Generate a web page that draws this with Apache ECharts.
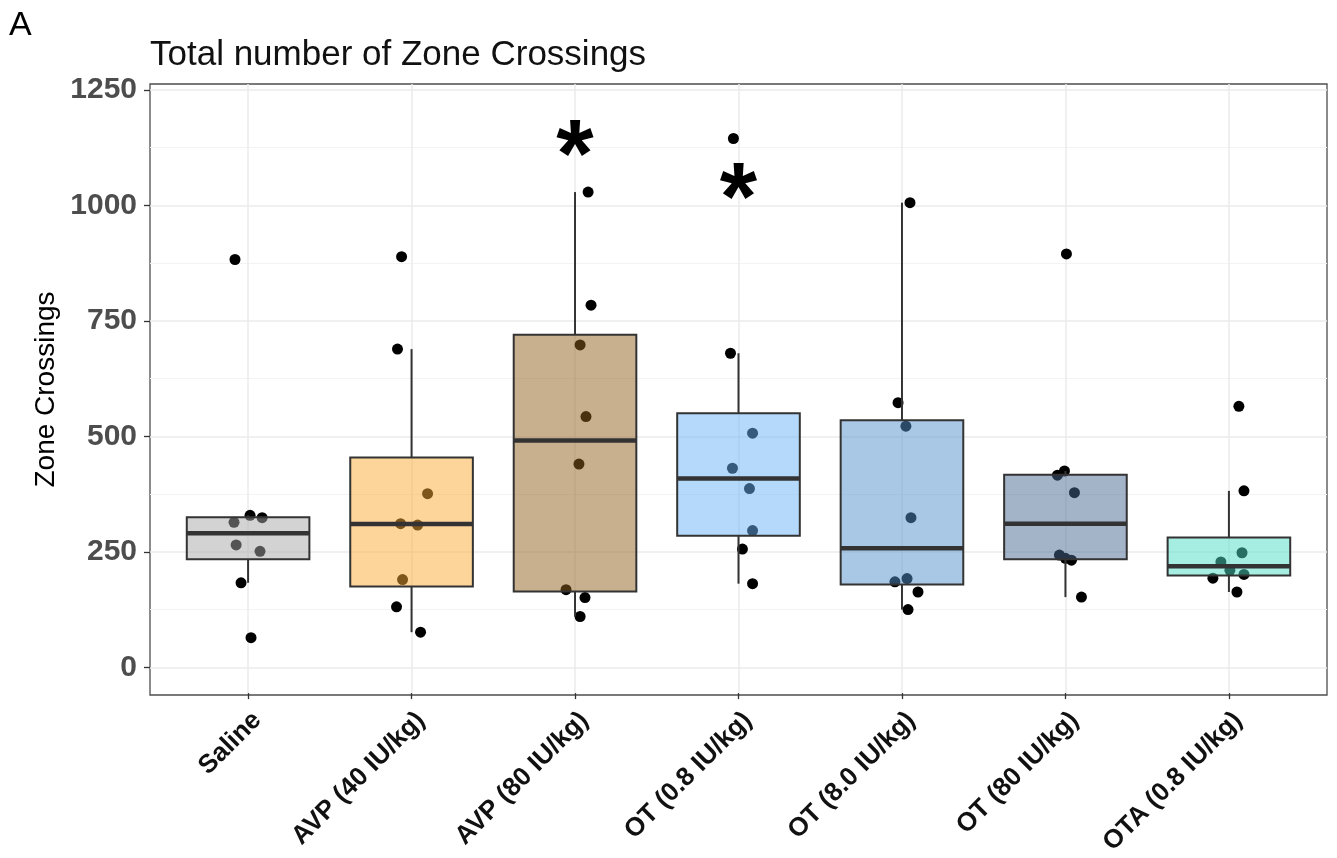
<!DOCTYPE html>
<html><head><meta charset="utf-8">
<script src="https://cdn.jsdelivr.net/npm/echarts@6/dist/echarts.min.js"></script>
<style>html,body{margin:0;padding:0;background:#fff}#c{width:1337px;height:858px}</style>
</head><body><div id="c"></div>
<script>
// ---------- data ----------
const categories = ['Saline','AVP (40 IU/kg)','AVP (80 IU/kg)','OT (0.8 IU/kg)','OT (8.0 IU/kg)','OT (80 IU/kg)','OTA (0.8 IU/kg)'];
const yTicks = [0, 250, 500, 750, 1000, 1250];

// individual animals (zone crossings)
const salinePts = [883, 314, 329, 324, 265, 251, 183, 64];
const avp40Pts  = [889, 689, 376, 311, 308, 190, 131, 76];
const avp80Pts  = [1029, 784, 698, 543, 440, 168, 151, 110];
const ot08Pts   = [1145, 680, 507, 431, 387, 296, 256, 181];
const ot8Pts    = [1006, 573, 522, 324, 185, 192, 163, 125];
const ot80Pts   = [895, 425, 416, 378, 243, 232, 236, 152];
const otaPts    = [565, 382, 248, 228, 201, 193, 163, 210];

// horizontal jitter of each point (category units)
const salineJit = [-0.08, -0.086, 0.012, 0.086, -0.073, 0.073, -0.043, 0.018];
const avp40Jit  = [-0.061, -0.086, 0.098, -0.067, 0.037, -0.055, -0.092, 0.055];
const avp80Jit  = [0.08, 0.098, 0.031, 0.067, 0.024, -0.055, 0.061, 0.031];
const ot08Jit   = [-0.031, -0.049, 0.086, -0.037, 0.067, 0.086, 0.024, 0.086];
const ot8Jit    = [0.049, -0.024, 0.024, 0.055, -0.043, 0.031, 0.098, 0.037];
const ot80Jit   = [0.006, -0.006, -0.049, 0.055, -0.037, 0.037, 0.0, 0.098];
const otaJit    = [0.061, 0.092, 0.08, -0.049, 0.092, -0.098, 0.049, 0.006];

// box statistics: [lower whisker, Q1, median, Q3, upper whisker]
const salineBox = [183, 234, 290, 325, 329];
const avp40Box  = [76, 175, 310, 454, 689];
const avp80Box  = [110, 164, 491, 720, 1029];
const ot08Box   = [181, 285, 409, 550, 680];
const ot8Box    = [125, 179, 258, 535, 1006];
const ot80Box   = [152, 234, 311, 417, 425];
const otaBox    = [163, 199, 219, 281, 382];

// significance marks
const sigCategories = ['AVP (80 IU/kg)', 'OT (0.8 IU/kg)'];
const sigY = [1147, 1053];

// ---------- styling ----------
const boxColors = ['rgba(167,167,167,0.5)','rgba(251,169,53,0.5)','rgba(145,97,31,0.5)','rgba(105,179,247,0.5)','rgba(83,145,205,0.5)','rgba(71,103,145,0.5)','rgba(77,219,197,0.5)'];
const FONT = "'Liberation Sans', Arial, Helvetica, sans-serif";
const PANEL = {left: 150, top: 84, width: 1177, height: 611};
const Y_LO = -60, Y_HI = 1263;      // panel y range (ggplot expansion)
const X_LO = -0.6, X_HI = 6.6;      // panel x range (discrete expansion)
const BOX_WIDTH = 0.75;

const allPts = [salinePts, avp40Pts, avp80Pts, ot08Pts, ot8Pts, ot80Pts, otaPts];
const allJit = [salineJit, avp40Jit, avp80Jit, ot08Jit, ot8Jit, ot80Jit, otaJit];
const allBox = [salineBox, avp40Box, avp80Box, ot08Box, ot8Box, ot80Box, otaBox];

const yPix = v => PANEL.top + PANEL.height * (Y_HI - v) / (Y_HI - Y_LO);
const xPix = v => PANEL.left + PANEL.width * (v - X_LO) / (X_HI - X_LO);
const yMin = yTicks[0], yMax = yTicks[yTicks.length - 1];

const pointData = [];
allPts.forEach((arr, g) => arr.forEach((v, k) => pointData.push([g + allJit[g][k], v])));
const boxData = allBox.map((b, g) => [g].concat(b));
const sigData = sigCategories.map((c, i) => [categories.indexOf(c), sigY[i]]);

const chart = echarts.init(document.getElementById('c'), null, {renderer: 'canvas'});
chart.setOption({
  animation: false,
  backgroundColor: '#ffffff',
  textStyle: {fontFamily: FONT},
  title: [
    {text: 'A', left: 9, top: 9, padding: 0, textStyle: {fontFamily: FONT, fontSize: 34, fontWeight: 'normal', color: '#000'}},
    {text: 'Total number of Zone Crossings', left: 150, top: 38, padding: 0, textStyle: {fontFamily: FONT, fontSize: 35, fontWeight: 'normal', color: '#111'}}
  ],
  grid: [
    {left: PANEL.left, top: PANEL.top, width: PANEL.width, height: PANEL.height, show: true, borderColor: '#4d4d4d', borderWidth: 1.3, backgroundColor: 'transparent', containLabel: false},
    {left: PANEL.left, width: PANEL.width, top: yPix(yMax), height: yPix(yMin) - yPix(yMax), containLabel: false},
    {left: xPix(0), width: xPix(categories.length - 1) - xPix(0), top: PANEL.top, height: PANEL.height, containLabel: false}
  ],
  xAxis: [
    {gridIndex: 0, type: 'value', min: X_LO, max: X_HI, show: false},
    {gridIndex: 1, type: 'value', min: 0, max: 1, show: false},
    {gridIndex: 2, type: 'value', min: 0, max: categories.length - 1, interval: 1,
      axisLine: {show: false},
      axisTick: {show: true, length: 6, lineStyle: {color: '#333', width: 1.3}},
      splitLine: {show: true, lineStyle: {color: '#ebebeb', width: 1.5}},
      axisLabel: {show: true, rotate: 45, margin: 14, verticalAlign: 'top', showMinLabel: true, showMaxLabel: true,
        formatter: v => categories[Math.round(v)] || '',
        fontFamily: FONT, fontSize: 26, fontWeight: 'bold', color: '#111'}}
  ],
  yAxis: [
    {gridIndex: 0, type: 'value', min: Y_LO, max: Y_HI,
      name: 'Zone Crossings', nameLocation: 'middle', nameRotate: 90, nameGap: 90,
      nameTextStyle: {fontFamily: FONT, fontSize: 28, color: '#000'},
      axisLine: {show: false}, axisTick: {show: false}, axisLabel: {show: false}, splitLine: {show: false}},
    {gridIndex: 1, type: 'value', min: yMin, max: yMax, interval: yTicks[1] - yTicks[0],
      axisLine: {show: false},
      axisTick: {show: true, length: 6, lineStyle: {color: '#333', width: 1.3}},
      axisLabel: {show: true, margin: 13, formatter: v => String(v), fontFamily: FONT, fontSize: 30, fontWeight: 'bold', color: '#4d4d4d'},
      splitLine: {show: true, lineStyle: {color: '#ebebeb', width: 1.5}},
      minorTick: {show: false, splitNumber: 2},
      minorSplitLine: {show: true, lineStyle: {color: '#f3f3f3', width: 1}}},
    {gridIndex: 2, type: 'value', min: 0, max: 1, show: false}
  ],
  series: [
    {
      name: 'animals', type: 'scatter', xAxisIndex: 0, yAxisIndex: 0, z: 2,
      symbol: 'circle', symbolSize: 11,
      itemStyle: {color: '#000', opacity: 1},
      data: pointData
    },
    {
      name: 'boxes', type: 'custom', xAxisIndex: 0, yAxisIndex: 0, z: 3,
      encode: {x: 0, y: [1, 2, 3, 4, 5]},
      data: boxData,
      renderItem: function (params, api) {
        const x = api.value(0);
        const lo = api.coord([x, api.value(1)]);
        const q1 = api.coord([x, api.value(2)]);
        const med = api.coord([x, api.value(3)]);
        const q3 = api.coord([x, api.value(4)]);
        const hi = api.coord([x, api.value(5)]);
        const half = api.size([BOX_WIDTH, 0])[0] / 2;
        const stroke = '#333333';
        return {type: 'group', children: [
          {type: 'line', shape: {x1: q3[0], y1: q3[1], x2: hi[0], y2: hi[1]}, style: {stroke: stroke, lineWidth: 2}},
          {type: 'line', shape: {x1: lo[0], y1: lo[1], x2: q1[0], y2: q1[1]}, style: {stroke: stroke, lineWidth: 2}},
          {type: 'rect', shape: {x: q3[0] - half, y: q3[1], width: half * 2, height: q1[1] - q3[1]},
            style: {fill: boxColors[params.dataIndex], stroke: stroke, lineWidth: 2}},
          {type: 'line', shape: {x1: med[0] - half, y1: med[1], x2: med[0] + half, y2: med[1]}, style: {stroke: stroke, lineWidth: 4.5}}
        ]};
      }
    },
    {
      name: 'significance', type: 'custom', xAxisIndex: 0, yAxisIndex: 0, z: 5,
      encode: {x: 0, y: 1},
      data: sigData,
      renderItem: function (params, api) {
        const p = api.coord([api.value(0), api.value(1)]);
        return {type: 'text', x: p[0], y: p[1],
          style: {text: '*', fontFamily: FONT, fontSize: 96, fontWeight: 'bold', fill: '#000', align: 'center', verticalAlign: 'middle', y: 22}};
      }
    }
  ]
});
</script></body></html>
